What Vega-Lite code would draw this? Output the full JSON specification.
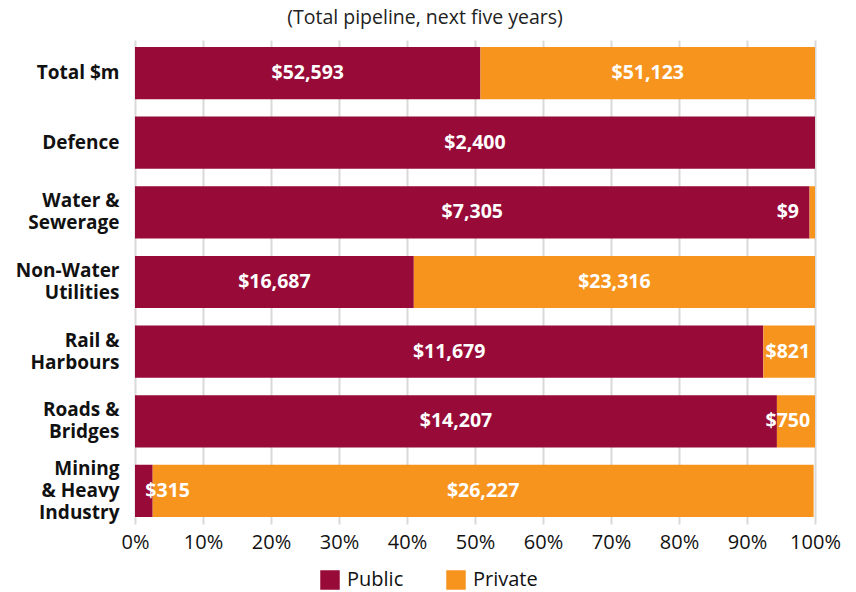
{
  "$schema": "https://vega.github.io/schema/vega-lite/v6.json",
  "autosize": {"type": "none"},
  "width": 680,
  "height": 484,
  "padding": {"left": 135, "top": 40, "right": 41, "bottom": 68},
  "background": "white",
  "title": {"text": "(Total pipeline, next five years)", "anchor": "middle", "dx": -50, "offset": 12, "fontSize": 19.5, "fontWeight": "normal", "font": "Open Sans", "color": "#222222"},
  "config": {"view": {"stroke": null}, "font": "Open Sans"},
  "data": {"values": [
    {"cat": "Total $m", "type": "Public", "pct": 50.8, "value": 52593},
    {"cat": "Total $m", "type": "Private", "pct": 49.2, "value": 51123},
    {"cat": "Defence", "type": "Public", "pct": 100, "value": 2400},
    {"cat": "Water & Sewerage", "type": "Public", "pct": 99.2, "value": 7305},
    {"cat": "Water & Sewerage", "type": "Private", "pct": 0.8, "value": 9},
    {"cat": "Non-Water Utilities", "type": "Public", "pct": 41.0, "value": 16687},
    {"cat": "Non-Water Utilities", "type": "Private", "pct": 59.0, "value": 23316},
    {"cat": "Rail & Harbours", "type": "Public", "pct": 92.4, "value": 11679},
    {"cat": "Rail & Harbours", "type": "Private", "pct": 7.6, "value": 821},
    {"cat": "Roads & Bridges", "type": "Public", "pct": 94.4, "value": 14207},
    {"cat": "Roads & Bridges", "type": "Private", "pct": 5.6, "value": 750},
    {"cat": "Mining & Heavy Industry", "type": "Public", "pct": 2.6, "value": 315},
    {"cat": "Mining & Heavy Industry", "type": "Private", "pct": 97.2, "value": 26227}
  ]},
  "encoding": {
    "y": {
      "field": "cat", "type": "nominal",
      "sort": ["Total $m", "Defence", "Water & Sewerage", "Non-Water Utilities", "Rail & Harbours", "Roads & Bridges", "Mining & Heavy Industry"],
      "scale": {"paddingInner": 0.25, "paddingOuter": 0.1},
      "axis": {
        "title": null, "domain": false, "ticks": false, "labelPadding": 16,
        "labelFontSize": 19, "labelFontWeight": "bold", "labelColor": "#111111", "labelFont": "Open Sans",
        "labelLineHeight": 22,
        "labelExpr": "({'Water & Sewerage': ['Water &', 'Sewerage'], 'Non-Water Utilities': ['Non-Water', 'Utilities'], 'Rail & Harbours': ['Rail &', 'Harbours'], 'Roads & Bridges': ['Roads &', 'Bridges'], 'Mining & Heavy Industry': ['Mining', '& Heavy', 'Industry']})[datum.label] || datum.label",
        "labelOffset": {"condition": [{"test": "datum.value == 'Mining & Heavy Industry'", "value": -22}, {"test": "datum.value == 'Total $m' || datum.value == 'Defence'", "value": 0}], "value": -11}
      }
    }
  },
  "layer": [
    {
      "mark": {"type": "bar"},
      "encoding": {
        "x": {
          "field": "pct", "type": "quantitative", "stack": "zero",
          "scale": {"domain": [0, 100], "nice": false},
          "axis": {
            "title": null, "domain": false, "ticks": false, "values": [0,10,20,30,40,50,60,70,80,90,100],
            "labelExpr": "datum.value + '%'", "labelFontSize": 20, "labelColor": "#111111", "labelPadding": 8,
            "labelFontWeight": 500, "labelFont": "Open Sans",
            "grid": true, "gridColor": "#d9d9d9", "gridWidth": 2,
            "labelFlush": false
          }
        },
        "color": {
          "field": "type", "type": "nominal",
          "scale": {"domain": ["Public", "Private"], "range": ["#980A38", "#F7941E"]},
          "legend": {
            "title": null, "orient": "none", "legendX": 185, "legendY": 530, "direction": "horizontal",
            "symbolType": "square", "symbolSize": 380, "symbolStrokeWidth": 0, "symbolOpacity": 1,
            "labelFontSize": 20, "labelColor": "#111111", "labelFont": "Open Sans", "columnPadding": 42, "labelOffset": 7
          }
        },
        "order": {"field": "type", "sort": "descending"}
      }
    },
    {
      "transform": [
        {"stack": "pct", "groupby": ["cat"], "sort": [{"field": "type", "order": "descending"}], "as": ["x0", "x1"]},
        {"calculate": "clamp((datum.x0 + datum.x1) / 2, 4.8, 96)", "as": "mid"},
        {"calculate": "'$' + format(datum.value, ',')", "as": "lbl"}
      ],
      "mark": {"type": "text", "color": "white", "fontWeight": "bold", "fontSize": 19.5, "font": "Open Sans", "align": "center", "baseline": "middle"},
      "encoding": {
        "x": {"field": "mid", "type": "quantitative"},
        "text": {"field": "lbl"}
      }
    }
  ]
}
